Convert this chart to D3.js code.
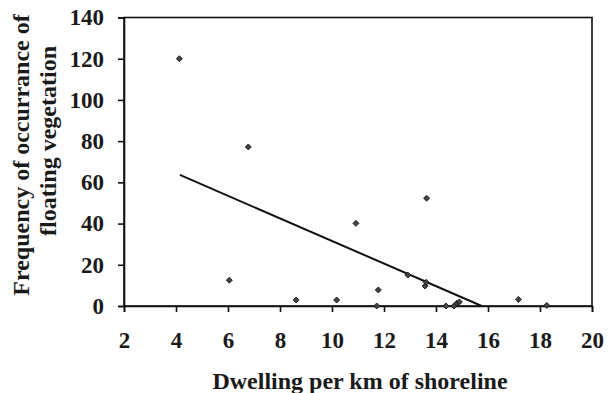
<!DOCTYPE html>
<html>
<head>
<meta charset="utf-8">
<script src="https://cdn.jsdelivr.net/npm/d3@7"></script>
<style>
  body { margin: 0; background: #fff; }
  svg { display: block; }
  text { font-family: "Liberation Serif", "Times New Roman", serif; font-weight: bold; fill: #1a1a1a; }
</style>
</head>
<body>
<svg></svg>
<script>
//data
const dwellings = [4.13, 6.05, 6.78, 8.62, 10.18, 10.92, 11.72, 11.78, 12.92, 13.58, 13.62, 13.64, 14.38, 14.69, 14.8, 14.9, 17.17, 18.26];
const frequency = [120, 12.5, 77.2, 2.9, 2.9, 40.1, 0, 7.8, 15, 9.7, 11.5, 52.3, 0, 0, 1.3, 2, 3.2, 0.3];

//linear trend line end points
const trendX = [4.15, 15.76];
const trendY = [63.6, 0];

const xTicks = [2, 4, 6, 8, 10, 12, 14, 16, 18, 20];
const yTicks = [0, 20, 40, 60, 80, 100, 120, 140];

const w = 608;
const h = 393;

const svg = d3.select('svg')
    .attr('width', w)
    .attr('height', h);

const xScale = d3.scaleLinear()
    .domain([2, 20])
    .range([124, 592]);

const yScale = d3.scaleLinear()
    .domain([0, 140])
    .range([306, 17.5]);

//plot frame (top and right edges)
svg.append('rect')
    .attr('x', xScale(2))
    .attr('y', yScale(140))
    .attr('width', xScale(20) - xScale(2))
    .attr('height', yScale(0) - yScale(140))
    .attr('fill', 'none')
    .attr('stroke', '#111')
    .attr('stroke-width', 1.6);

//axes
const xAxis = d3.axisBottom(xScale)
    .tickValues(xTicks)
    .tickSize(6)
    .tickPadding(20);

svg.append('g')
    .attr('transform', 'translate(0,' + yScale(0) + ')')
    .call(xAxis)
    .call(g => g.selectAll('text').style('font-size', '23px'))
    .call(g => g.selectAll('line,path').attr('stroke', '#111').attr('stroke-width', 1.6));

const yAxis = d3.axisLeft(yScale)
    .tickValues(yTicks)
    .tickSize(6)
    .tickPadding(14);

svg.append('g')
    .attr('transform', 'translate(' + xScale(2) + ',0)')
    .call(yAxis)
    .call(g => g.selectAll('text').style('font-size', '23px'))
    .call(g => g.selectAll('line,path').attr('stroke', '#111').attr('stroke-width', 1.6));

//trend line
const line = d3.line()
    .x(d => xScale(d[0]))
    .y(d => yScale(d[1]));

svg.append('path')
    .datum(d3.zip(trendX, trendY))
    .attr('d', line)
    .attr('fill', 'none')
    .attr('stroke', '#111')
    .attr('stroke-width', 2);

//points
const diamond = d3.symbol().type(d3.symbolSquare).size(18);

svg.selectAll('.pt')
    .data(d3.zip(dwellings, frequency))
    .enter()
    .append('path')
    .attr('class', 'pt')
    .attr('d', diamond)
    .attr('transform', d => 'translate(' + xScale(d[0]) + ',' + yScale(d[1]) + ') rotate(45)')
    .attr('fill', '#444')
    .attr('stroke', '#111')
    .attr('stroke-width', 0.8);

//axis titles
svg.append('text')
    .attr('x', 360)
    .attr('y', 389)
    .attr('text-anchor', 'middle')
    .style('font-size', '24px')
    .text('Dwelling per km of shoreline');

svg.append('text')
    .attr('transform', 'translate(29,155) rotate(-90)')
    .attr('text-anchor', 'middle')
    .style('font-size', '24px')
    .text('Frequency of occurrance of');

svg.append('text')
    .attr('transform', 'translate(56,141) rotate(-90)')
    .attr('text-anchor', 'middle')
    .style('font-size', '24px')
    .text('floating vegetation');
</script>
</body>
</html>
